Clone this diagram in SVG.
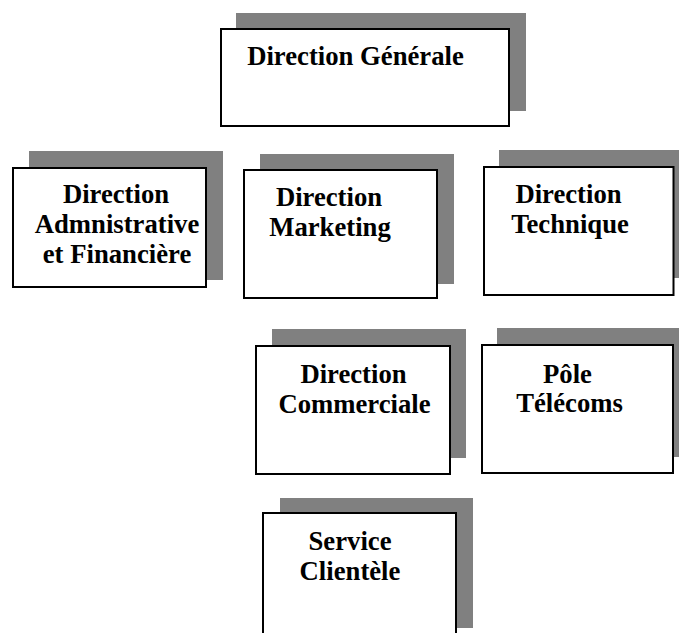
<svg xmlns="http://www.w3.org/2000/svg" width="679" height="633" viewBox="0 0 679 633">
  <style>
    .shadow { fill: #808080; stroke: none; }
    .box { fill: #ffffff; stroke: #000000; stroke-width: 2; }
    .label { font-family: "Liberation Serif", "Times New Roman", serif; font-weight: bold; font-size: 26.7px; fill: #000000; text-anchor: middle; }
  </style>
  <rect width="679" height="633" fill="#ffffff"/>

  <!-- organisation chart boxes: grey offset shadow behind a white framed box -->
  <g id="direction-generale">
    <rect class="shadow" x="236" y="13" width="290" height="98"/>
    <rect class="box" x="221" y="29" width="288" height="97"/>
    <text class="label" x="355.5" y="65">Direction Générale</text>
  </g>

  <g id="direction-administrative-financiere">
    <rect class="shadow" x="29" y="151" width="194" height="129"/>
    <rect class="box" x="13" y="168" width="193" height="119"/>
    <text class="label" x="116" y="203">Direction</text>
    <text class="label" x="117" y="233">Admnistrative</text>
    <text class="label" x="117" y="263">et Financière</text>
  </g>

  <g id="direction-marketing">
    <rect class="shadow" x="260" y="154" width="194" height="130"/>
    <rect class="box" x="244" y="170" width="193" height="128"/>
    <text class="label" x="329" y="206">Direction</text>
    <text class="label" x="330" y="236">Marketing</text>
  </g>

  <g id="direction-technique">
    <rect class="shadow" x="499" y="150" width="185" height="128"/>
    <rect class="box" x="484" y="167" width="189.5" height="128"/>
    <text class="label" x="568.5" y="203">Direction</text>
    <text class="label" x="570" y="233">Technique</text>
  </g>

  <g id="direction-commerciale">
    <rect class="shadow" x="272" y="329" width="194" height="129"/>
    <rect class="box" x="256" y="346" width="194" height="128"/>
    <text class="label" x="353.5" y="383">Direction</text>
    <text class="label" x="354.5" y="413">Commerciale</text>
  </g>

  <g id="pole-telecoms">
    <rect class="shadow" x="497" y="328" width="187" height="129"/>
    <rect class="box" x="482" y="345" width="191" height="128"/>
    <text class="label" x="567.5" y="383">Pôle</text>
    <text class="label" x="569.5" y="412">Télécoms</text>
  </g>

  <g id="service-clientele">
    <rect class="shadow" x="280" y="498" width="193" height="130"/>
    <rect class="box" x="263" y="513" width="193" height="135"/>
    <text class="label" x="350" y="550">Service</text>
    <text class="label" x="350" y="580">Clientèle</text>
  </g>

  <g id="connectors"/>
</svg>
